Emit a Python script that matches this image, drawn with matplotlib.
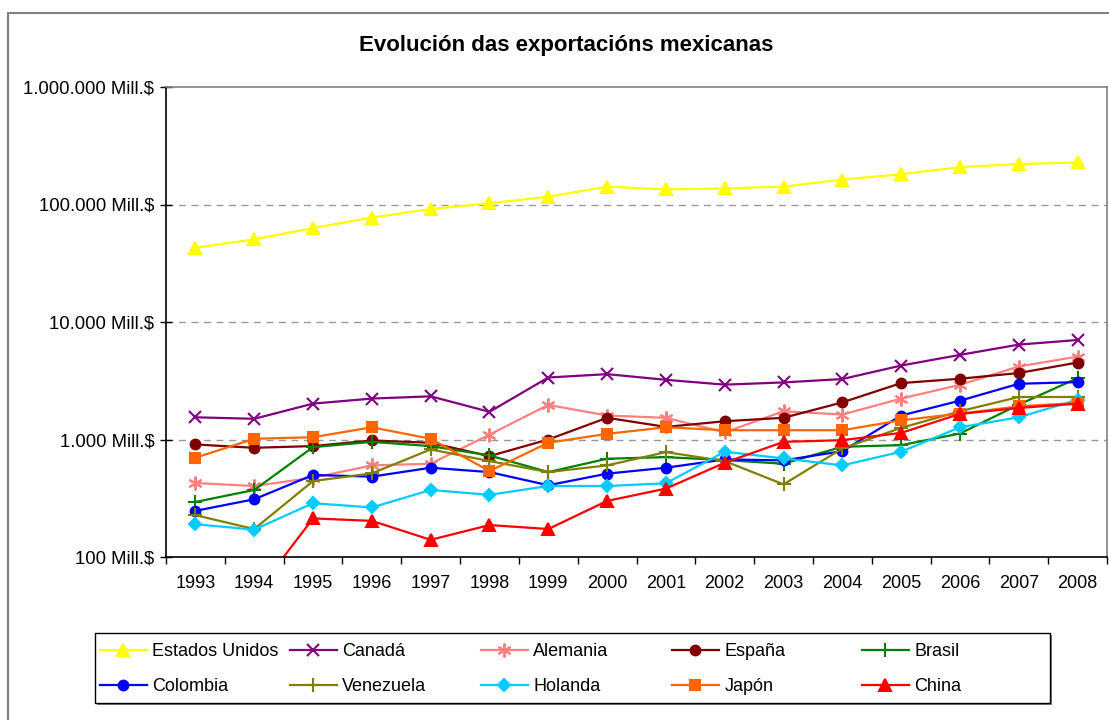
import numpy as np
import matplotlib
matplotlib.use("Agg")
from matplotlib import pyplot as plt
from matplotlib.patches import Rectangle
from matplotlib.ticker import FixedLocator, NullFormatter, FixedFormatter

plt.rcParams['font.family'] = ['Liberation Sans', 'DejaVu Sans']

years = [str(y) for y in range(1993, 2009)]

estados_unidos = [42900, 50500, 63000, 77500, 91500, 102500, 116500, 142000,
                  134500, 137000, 142000, 163000, 181000, 208000, 221000, 228000]
canada = [1545, 1500, 2020, 2230, 2330, 1720, 3370, 3600,
          3220, 2930, 3060, 3270, 4260, 5250, 6420, 7030]
alemania = [426, 402, 473, 602, 622, 1100, 1970, 1600,
            1530, 1150, 1740, 1630, 2230, 2920, 4180, 5080]
espana = [907, 850, 879, 981, 938, 722, 1000, 1530,
          1280, 1430, 1530, 2070, 3020, 3290, 3680, 4520]
brasil = [294, 372, 861, 955, 879, 732, 528, 686,
          708, 668, 622, 867, 895, 1124, 1980, 3330]
colombia = [247, 310, 499, 483, 575, 528, 408, 512,
            575, 677, 664, 796, 1600, 2140, 2980, 3080]
venezuela = [227, 173, 443, 515, 823, 655, 528, 602,
             781, 655, 415, 839, 1256, 1740, 2300, 2300]
holanda = [190, 171, 287, 264, 372, 338, 402, 402,
           424, 787, 690, 602, 787, 1271, 1545, 2180]
japon = [700, 1014, 1046, 1271, 1014, 539, 938, 1117,
         1271, 1199, 1199, 1199, 1458, 1660, 1915, 2047]
china = [45, 47, 213, 203, 140, 187, 173, 300,
         382, 634, 955, 987, 1138, 1651, 1855, 2019]

series = [
    ("Estados Unidos", estados_unidos, "#FFFF00", "^", 8),
    ("Canadá", canada, "#800080", "x", 8),
    ("Alemania", alemania, "#FF8080", (6, 2, 0), 10),
    ("España", espana, "#800000", "o", 7),
    ("Brasil", brasil, "#008000", "+", 10),
    ("Colombia", colombia, "#0000FF", "o", 7),
    ("Venezuela", venezuela, "#808000", "+", 10),
    ("Holanda", holanda, "#00CCFF", "D", 6),
    ("Japón", japon, "#FF6600", "s", 7),
    ("China", china, "#FF0000", "^", 8),
]

y_ticks = [100, 1000, 10000, 100000, 1000000]
y_labels = [f"{v:,}".replace(",", ".") + " Mill.$" for v in y_ticks]

fig = plt.figure(figsize=(11.09, 7.2), dpi=100)
ax = fig.add_axes([166 / 1109, 1 - 557 / 720, (1107 - 166) / 1109, (557 - 87) / 720])

x = np.arange(len(years))
handles = []
for name, vals, color, marker, ms in series:
    h, = ax.plot(x, vals, color=color, marker=marker, markersize=ms, lw=1.6,
                 mew=1.5, label=name)
    handles.append(h)

ax.set_yscale("log")
ax.set_ylim(100, 1000000)
ax.set_xlim(-0.5, len(years) - 0.5)

ax.yaxis.set_major_locator(FixedLocator(y_ticks))
ax.yaxis.set_major_formatter(FixedFormatter(y_labels))
ax.yaxis.set_minor_locator(FixedLocator([]))
ax.tick_params(axis="y", which="major", direction="inout", length=9, width=1,
               labelsize=13.3, pad=4, colors="black")

ax.xaxis.set_major_locator(FixedLocator(np.arange(len(years) + 1) - 0.5))
ax.xaxis.set_major_formatter(NullFormatter())
ax.xaxis.set_minor_locator(FixedLocator(x))
ax.xaxis.set_minor_formatter(FixedFormatter(years))
ax.tick_params(axis="x", which="major", direction="out", length=5, width=1)
ax.tick_params(axis="x", which="minor", length=0, labelsize=13, pad=13)

for yv in [1000, 10000, 100000]:
    ax.axhline(yv, color="#999999", lw=1, ls=(0, (5, 4)), zorder=0.5)

ax.spines["left"].set_color("black")
ax.spines["bottom"].set_color("black")
ax.spines["top"].set_color("#808080")
ax.spines["right"].set_color("#808080")
for s in ax.spines.values():
    s.set_linewidth(1.2)

fig.text(566 / 1109, 1 - 46 / 720, "Evolución das exportacións mexicanas",
         ha="center", va="center", fontsize=16, fontweight="bold")

# outer chart border
fig.patches.append(Rectangle((8 / 1109, -0.1), 1.2, 1 - 13 / 720 + 0.1,
                             transform=fig.transFigure, fill=False,
                             edgecolor="#808080", lw=1.5))

# legend box
fig.patches.append(Rectangle((97 / 1109, 1 - 705 / 720), 955 / 1109, 70 / 720,
                             transform=fig.transFigure, facecolor="#808080",
                             edgecolor="none"))
fig.patches.append(Rectangle((95 / 1109, 1 - 703 / 720), 955 / 1109, 70 / 720,
                             transform=fig.transFigure, facecolor="white",
                             edgecolor="black", lw=1))

col_starts = [100, 290, 481, 672, 862]
for i, cx in enumerate(col_starts):
    fig.legend([handles[i], handles[i + 5]],
               [series[i][0], series[i + 5][0]],
               loc="upper left", bbox_to_anchor=(cx / 1109, 1 - 643 / 720),
               frameon=False, fontsize=13, handlelength=2.6,
               handletextpad=0.3, labelspacing=1.0, borderpad=0,
               borderaxespad=0)

fig.savefig("out.png", dpi=100)
